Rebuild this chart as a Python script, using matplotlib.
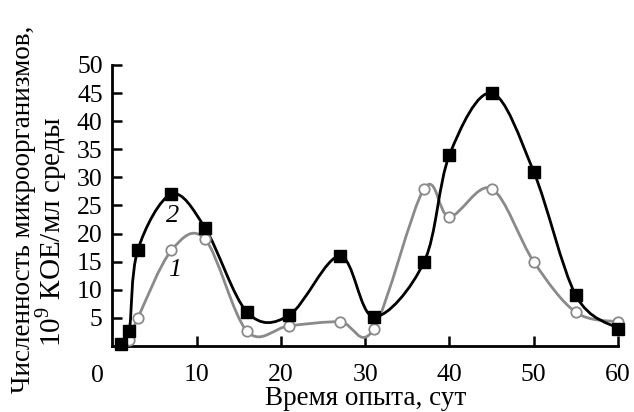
import matplotlib
matplotlib.use("Agg")
import matplotlib.pyplot as plt
from matplotlib.path import Path
from matplotlib.patches import PathPatch
import numpy as np

# Data
days_2 = [1, 2, 3, 7, 11, 16, 21, 27, 31, 37, 40, 45, 50, 55, 60]
count_2 = [0.4, 2.7, 17.0, 27.0, 21.0, 6.0, 5.5, 16.0, 5.2, 15.0, 34.0, 45.0, 31.0, 9.0, 3.1]
days_1 = [2, 3, 7, 11, 16, 21, 27, 31, 37, 40, 45, 50, 55, 60]
count_1 = [1.0, 4.9, 17.0, 19.0, 2.6, 3.6, 4.3, 3.0, 28.0, 23.0, 28.0, 15.0, 6.0, 4.3]
x_ticks = [10, 20, 30, 40, 50, 60]
y_ticks = [5, 10, 15, 20, 25, 30, 35, 40, 45, 50]

SERIF = ["Liberation Serif", "DejaVu Serif"]
plt.rcParams["font.family"] = SERIF
plt.rcParams["mathtext.fontset"] = "custom"
plt.rcParams["mathtext.rm"] = "Liberation Serif"

W, H = 634, 412
fig = plt.figure(figsize=(W / 100, H / 100), dpi=100)
ax = fig.add_axes([112.4 / W, 1 - 346 / H, (618 - 112.4) / W, (346 - 65) / H])


def smooth_path(xs, ys):
    pts = np.column_stack([xs, ys]).astype(float)
    n = len(pts)
    verts = [pts[0]]
    codes = [Path.MOVETO]
    for i in range(n - 1):
        p0 = pts[i - 1] if i > 0 else pts[i]
        p1 = pts[i]
        p2 = pts[i + 1]
        p3 = pts[i + 2] if i + 2 < n else pts[i + 1]
        c1 = p1 + (p2 - p0) / 6.0
        c2 = p2 - (p3 - p1) / 6.0
        verts += [c1, c2, p2]
        codes += [Path.CURVE4] * 3
    return Path(verts, codes)


grey = "#8a8a8a"
ax.add_patch(PathPatch(smooth_path(days_1, count_1), fill=False, edgecolor=grey, lw=2.0, zorder=2))
ax.add_patch(PathPatch(smooth_path(days_2, count_2), fill=False, edgecolor="black", lw=2.0, zorder=3))
ax.plot(days_1, count_1, ls="none", marker="o", ms=7.5, mfc="white", mec=grey, mew=1.3, zorder=4, clip_on=False)
ax.plot(days_2, count_2, ls="none", marker="s", ms=8, mfc="black", mec="black", zorder=5, clip_on=False)

ax.set_xlim(0, 60)
ax.set_ylim(0, 50)
ax.set_xticks(x_ticks)
ax.set_yticks(y_ticks)
ax.tick_params(direction="in", length=7, width=1.8, labelsize=18.5, pad=7)
ax.tick_params(axis="x", pad=13)
for s in ["top", "right"]:
    ax.spines[s].set_visible(False)
for s in ["left", "bottom"]:
    ax.spines[s].set_linewidth(2.0)

# origin label
ax.text(-1.8, -3.3, "0", ha="center", va="top", fontsize=18.5)

ax.text(7.2, 23.2, "2", fontsize=19, style="italic", ha="center", va="center")
ax.text(7.4, 13.5, "1", fontsize=19, style="italic", ha="center", va="center")

fig.text(366 / W, 1 - 405 / H, "Время опыта, сут", ha="center", va="baseline", fontsize=19.5)
fig.text(24 / W, 1 - 393 / H, "Численность микроорганизмов,", rotation=90, ha="center", va="bottom", fontsize=19.5)
fig.text(51 / W, 1 - 347 / H, "10$^{9}$ КОЕ/мл среды", rotation=90, ha="center", va="bottom", fontsize=21)

fig.savefig("out.png", dpi=100)
